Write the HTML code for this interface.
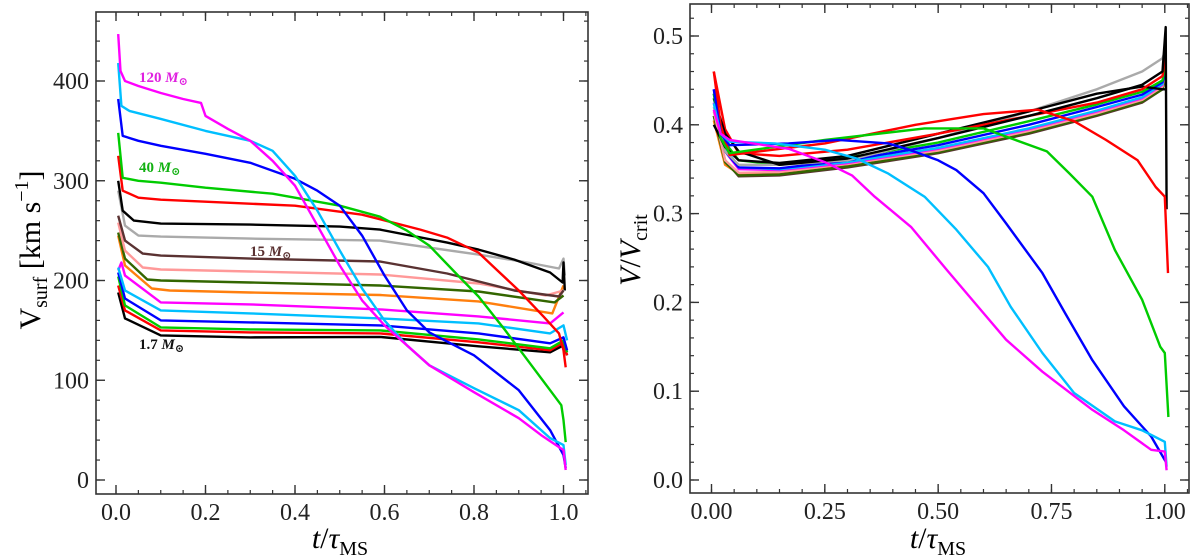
<!DOCTYPE html>
<html><head><meta charset="utf-8">
<style>
html,body{margin:0;padding:0;background:#fff;}
svg{display:block;font-family:"Liberation Serif","DejaVu Serif",serif;}
</style></head>
<body>
<svg id="chart" width="1200" height="558" viewBox="0 0 1200 558" xmlns="http://www.w3.org/2000/svg">
<defs>
<clipPath id="clipL"><rect x="96" y="12" width="492" height="482"/></clipPath>
<clipPath id="clipR"><rect x="690" y="4" width="500" height="489"/></clipPath>
</defs>
<g id="left"></g>
<g id="right"></g>
<text transform="translate(40,250) rotate(-90)" text-anchor="middle" font-size="30">V<tspan font-size="20" dy="7">surf</tspan><tspan dy="-7"> [km s</tspan><tspan font-size="20" dy="-12">−1</tspan><tspan dy="12">]</tspan></text>
<text transform="translate(640,250) rotate(-90)" text-anchor="middle" font-size="30"><tspan font-style="italic">V</tspan>/<tspan font-style="italic">V</tspan><tspan font-size="20" dy="7">crit</tspan></text>
<text x="340" y="548" text-anchor="middle" font-size="30"><tspan font-style="italic">t</tspan>/<tspan font-style="italic">τ</tspan><tspan font-size="20" dy="7">MS</tspan></text>
<text x="938" y="548" text-anchor="middle" font-size="30"><tspan font-style="italic">t</tspan>/<tspan font-style="italic">τ</tspan><tspan font-size="20" dy="7">MS</tspan></text>
<text x="139" y="82" font-size="15" font-weight="bold" fill="#e020e0">120 <tspan font-style="italic">M</tspan><tspan font-size="11" dy="3">⊙</tspan></text>
<text x="139" y="172" font-size="15" font-weight="bold" fill="#10b010">40 <tspan font-style="italic">M</tspan><tspan font-size="11" dy="3">⊙</tspan></text>
<text x="250" y="256" font-size="15" font-weight="bold" fill="#5a3232">15 <tspan font-style="italic">M</tspan><tspan font-size="11" dy="3">⊙</tspan></text>
<text x="139" y="349" font-size="15" font-weight="bold" fill="#111">1.7 <tspan font-style="italic">M</tspan><tspan font-size="11" dy="3">⊙</tspan></text>
</svg>
<script>
// ---------- Left panel data ----------
const L_m120_t=[0.005,0.01,0.02,0.05,0.1,0.15,0.19,0.2,0.25,0.3,0.35,0.4,0.45,0.5,0.55,0.6,0.65,0.7,0.8,0.9,0.95,1.0,1.005];
const L_m120_v=[447,410,400,395,388,382,378,365,352,340,320,295,255,215,180,155,135,115,88,62,45,30,10];
const L_cyH_t=[0.005,0.012,0.03,0.1,0.2,0.3,0.35,0.4,0.45,0.5,0.55,0.6,0.65,0.7,0.8,0.9,0.97,1.0,1.005];
const L_cyH_v=[418,375,370,362,350,340,330,305,270,230,192,160,135,115,92,70,42,35,15];
const L_blH_t=[0.005,0.015,0.05,0.1,0.2,0.3,0.4,0.45,0.5,0.55,0.6,0.65,0.7,0.8,0.9,0.97,1.0,1.005];
const L_blH_v=[382,345,340,335,327,318,302,290,275,245,205,170,148,125,90,50,25,12];
const L_gr40_t=[0.005,0.015,0.05,0.1,0.2,0.35,0.5,0.59,0.65,0.7,0.76,0.81,0.87,0.93,0.97,0.995,1.0,1.005];
const L_gr40_v=[348,303,300,298,293,287,275,264,250,235,207,184,150,114,90,75,60,38];
const L_rdH_t=[0.005,0.015,0.05,0.1,0.2,0.4,0.55,0.68,0.74,0.81,0.85,0.9,0.955,0.99,1.0,1.005];
const L_rdH_v=[325,290,283,281,279,275,266,251,243,228,211,190,164,147,130,113];
const L_bkH_t=[0.005,0.015,0.04,0.1,0.3,0.5,0.59,0.74,0.81,0.89,0.97,0.998,1.0,1.003];
const L_bkH_v=[300,270,260,257,256,254,251,238,231,221,208,198,218,190];
const L_gy_t=[0.005,0.02,0.05,0.1,0.3,0.59,0.81,0.92,0.99,1.0,1.003];
const L_gy_v=[290,255,245,244,242,240,226,218,212,222,205];
const L_br_t=[0.005,0.02,0.06,0.1,0.3,0.59,0.74,0.89,0.99,1.0];
const L_br_v=[265,240,227,225,222,219,207,190,184,190];
const L_pk_t=[0.005,0.02,0.06,0.1,0.3,0.59,0.81,0.96,1.0];
const L_pk_v=[258,230,213,211,209,206,197,185,190];
const L_dg_t=[0.005,0.02,0.07,0.1,0.3,0.59,0.81,0.98,1.0];
const L_dg_v=[248,222,201,200,198,195,189,178,185];
const L_or_t=[0.005,0.02,0.08,0.12,0.3,0.59,0.81,0.975,1.0];
const L_or_v=[245,215,192,190,188,185.5,179,167,195];
const L_mL_t=[0.005,0.012,0.02,0.1,0.3,0.59,0.81,0.97,1.0];
const L_mL_v=[210,218,205,178,176,171,164,157,168];
const L_low_t=[0.005,0.02,0.1,0.3,0.59,0.81,0.97,1.0,1.008];
const L_cL_v=[213,190,170,167,162,157,147,155,140];
const L_bL_v=[208,182,160,158,155,147,137,143,130];
const L_gL_v=[204,175,153,151,150,141,132,140,128];
const L_rL_v=[195,170,150,148,147,138,130,138,125];
const L_kL_v=[188,162,145,143,143.5,134,128,135,125];
const L_yticks=[0,100,200,300,400];
const L_xticks=[0.0,0.2,0.4,0.6,0.8,1.0];
const L_xlabels=["0.0","0.2","0.4","0.6","0.8","1.0"];

// ---------- Right panel data ----------
const R_bulk_t=[0.005,0.03,0.06,0.15,0.3,0.5,0.7,0.85,0.95,0.995,1.002];
const R_br_v=[0.41,0.36,0.342,0.343,0.352,0.368,0.39,0.41,0.425,0.44,0.46];
const R_or_v=[0.405,0.355,0.345,0.346,0.355,0.37,0.392,0.412,0.427,0.442,0.47];
const R_pk_v=[0.415,0.36,0.346,0.347,0.356,0.371,0.393,0.413,0.428,0.443,0.465];
const R_dg_v=[0.41,0.358,0.343,0.344,0.353,0.369,0.391,0.411,0.426,0.44,0.455];
const R_mL_v=[0.425,0.37,0.35,0.349,0.357,0.373,0.395,0.415,0.43,0.445,0.47];
const R_cL_v=[0.43,0.375,0.352,0.35,0.358,0.374,0.396,0.416,0.431,0.446,0.475];
const R_bL_v=[0.44,0.37,0.352,0.351,0.36,0.377,0.4,0.42,0.434,0.448,0.46];
const R_gL_v=[0.435,0.38,0.36,0.355,0.363,0.38,0.404,0.423,0.437,0.45,0.47];
const R_rL_v=[0.46,0.395,0.368,0.365,0.372,0.39,0.41,0.425,0.44,0.455,0.48];
const R_k2_v=[0.4,0.375,0.36,0.357,0.365,0.39,0.415,0.435,0.443,0.44,0.44];
const R_gy_v=[0.42,0.37,0.355,0.355,0.36,0.385,0.415,0.44,0.46,0.475,0.485];
const R_k1_t=[0.005,0.03,0.06,0.15,0.3,0.5,0.7,0.85,0.95,0.995,1.002,1.004];
const R_k1_v=[0.43,0.39,0.37,0.355,0.362,0.385,0.41,0.43,0.445,0.46,0.51,0.305];
const R_m_t=[0.005,0.02,0.04,0.17,0.25,0.31,0.36,0.44,0.52,0.6,0.65,0.73,0.84,0.91,0.97,1.0,1.004];
const R_m_v=[0.417,0.39,0.383,0.373,0.358,0.343,0.319,0.285,0.236,0.188,0.158,0.122,0.079,0.056,0.034,0.032,0.011];
const R_c_t=[0.005,0.02,0.04,0.14,0.25,0.32,0.39,0.47,0.54,0.61,0.66,0.73,0.8,0.89,0.95,1.0,1.004];
const R_c_v=[0.424,0.39,0.381,0.379,0.372,0.362,0.345,0.319,0.282,0.24,0.195,0.143,0.098,0.066,0.056,0.043,0.015];
const R_b_t=[0.005,0.02,0.04,0.17,0.28,0.39,0.43,0.5,0.54,0.6,0.65,0.73,0.78,0.84,0.91,0.97,1.004];
const R_b_v=[0.44,0.39,0.377,0.379,0.383,0.379,0.373,0.36,0.349,0.323,0.289,0.233,0.188,0.135,0.083,0.049,0.019];
const R_g_t=[0.005,0.02,0.04,0.25,0.47,0.6,0.67,0.74,0.79,0.84,0.89,0.95,0.99,1.0,1.008];
const R_g_v=[0.435,0.385,0.368,0.383,0.396,0.396,0.383,0.37,0.345,0.319,0.259,0.203,0.15,0.143,0.071];
const R_r_t=[0.005,0.02,0.04,0.25,0.45,0.6,0.72,0.8,0.87,0.94,0.98,1.0,1.007];
const R_r_v=[0.46,0.4,0.366,0.379,0.4,0.412,0.417,0.404,0.383,0.36,0.33,0.319,0.233];
const R_yticks=[0.0,0.1,0.2,0.3,0.4,0.5];
const R_ylabels=["0.0","0.1","0.2","0.3","0.4","0.5"];
const R_xticks=[0.0,0.25,0.5,0.75,1.0];
const R_xlabels=["0.00","0.25","0.50","0.75","1.00"];

const NS="http://www.w3.org/2000/svg";
const xL=t=>116+t*447.5, yL=v=>480-v*0.9975;
const xR=t=>711.5+t*453.3, yR=v=>480-v*888;
const LF={x0:96,x1:588,y0:12,y1:494}, RF={x0:690,x1:1189,y0:4,y1:493};

function el(tag,attrs,parent){const e=document.createElementNS(NS,tag);for(const k in attrs)e.setAttribute(k,attrs[k]);parent.appendChild(e);return e;}

function series(parent,clip,xf,yf,ts,vs,color,name){
  let g=parent.querySelector('g.clip');
  if(!g){g=el('g',{'class':'clip','clip-path':'url(#'+clip+')'},parent);}
  const pts=ts.map((t,i)=>xf(t).toFixed(1)+','+yf(vs[i]).toFixed(1)).join(' ');
  const p=el('polyline',{points:pts,fill:'none',stroke:color,'stroke-width':2.4,'stroke-linejoin':'round'},g);
  
  
}

function axes(parent,F,xf,yf,xt,xlab,xminor,yt,ylab,yminor,prefix){
  const fr=el('rect',{x:F.x0,y:F.y0,width:F.x1-F.x0,height:F.y1-F.y0,fill:'none',stroke:'#333','stroke-width':1.6},parent);
  
  
  xminor.forEach(t=>{const x=xf(t);if(x<=F.x0+1||x>=F.x1-1)return;el('line',{x1:x,x2:x,y1:F.y1,y2:F.y1-4,stroke:'#333','stroke-width':1.2},parent);el('line',{x1:x,x2:x,y1:F.y0,y2:F.y0+4,stroke:'#333','stroke-width':1.2},parent);});
  yminor.forEach(v=>{const y=yf(v);if(y<=F.y0+1||y>=F.y1-1)return;el('line',{x1:F.x0,x2:F.x0+4,y1:y,y2:y,stroke:'#333','stroke-width':1.2},parent);el('line',{x1:F.x1,x2:F.x1-4,y1:y,y2:y,stroke:'#333','stroke-width':1.2},parent);});
  xt.forEach((t,i)=>{const x=xf(t);el('line',{x1:x,x2:x,y1:F.y1,y2:F.y1-9,stroke:'#333','stroke-width':1.4},parent);el('line',{x1:x,x2:x,y1:F.y0,y2:F.y0+9,stroke:'#333','stroke-width':1.4},parent);
    const tx=el('text',{x:x,y:F.y1+26,'text-anchor':'middle','font-size':24,fill:'#222'},parent);tx.textContent=xlab[i];
    
    });
  yt.forEach((v,i)=>{const y=yf(v);el('line',{x1:F.x0,x2:F.x0+9,y1:y,y2:y,stroke:'#333','stroke-width':1.4},parent);el('line',{x1:F.x1,x2:F.x1-9,y1:y,y2:y,stroke:'#333','stroke-width':1.4},parent);
    const tx=el('text',{x:F.x0-7,y:y+8,'text-anchor':'end','font-size':24,fill:'#222'},parent);tx.textContent=ylab[i];
    
    });
}

const gl=document.getElementById('left'), gr=document.getElementById('right');
const LS=[[L_kL_v,'#000000','vsurf-1.7'],[L_rL_v,'#ff0000','vsurf-red-low'],[L_gL_v,'#00cc00','vsurf-green-low'],[L_bL_v,'#0000ff','vsurf-blue-low'],[L_cL_v,'#00bfff','vsurf-cyan-low']];
series(gl,'clipL',xL,yL,L_mL_t,L_mL_v,'#ff00ff','vsurf-magenta-low');
LS.forEach(s=>series(gl,'clipL',xL,yL,L_low_t,s[0],s[1],s[2]));
series(gl,'clipL',xL,yL,L_or_t,L_or_v,'#ff7f0e','vsurf-orange');
series(gl,'clipL',xL,yL,L_dg_t,L_dg_v,'#336600','vsurf-darkgreen');
series(gl,'clipL',xL,yL,L_pk_t,L_pk_v,'#ff9999','vsurf-pink');
series(gl,'clipL',xL,yL,L_br_t,L_br_v,'#5a3232','vsurf-15');
series(gl,'clipL',xL,yL,L_gy_t,L_gy_v,'#aaaaaa','vsurf-gray');
series(gl,'clipL',xL,yL,L_bkH_t,L_bkH_v,'#000000','vsurf-black-high');
series(gl,'clipL',xL,yL,L_rdH_t,L_rdH_v,'#ff0000','vsurf-red-high');
series(gl,'clipL',xL,yL,L_gr40_t,L_gr40_v,'#00cc00','vsurf-40');
series(gl,'clipL',xL,yL,L_blH_t,L_blH_v,'#0000ff','vsurf-blue-high');
series(gl,'clipL',xL,yL,L_cyH_t,L_cyH_v,'#00bfff','vsurf-cyan-high');
series(gl,'clipL',xL,yL,L_m120_t,L_m120_v,'#ff00ff','vsurf-120');
const Lxm=[],Lym=[];for(let i=0;i<=21;i++)Lxm.push(i*0.05);for(let i=0;i<=23;i++)Lym.push(i*20);
axes(gl,LF,xL,yL,L_xticks,L_xlabels,Lxm,L_yticks,L_yticks.map(String),Lym,'left');

const RS=[[R_br_v,'#5a3232','ratio-brown'],[R_or_v,'#ff7f0e','ratio-orange'],[R_dg_v,'#336600','ratio-darkgreen'],[R_pk_v,'#ff9999','ratio-pink'],[R_mL_v,'#ff00ff','ratio-magenta-low'],[R_cL_v,'#00bfff','ratio-cyan-low'],[R_bL_v,'#0000ff','ratio-blue-low'],[R_gL_v,'#00cc00','ratio-green-low'],[R_gy_v,'#aaaaaa','ratio-gray'],[R_k2_v,'#000000','ratio-black-2'],[R_rL_v,'#ff0000','ratio-red-low']];
RS.forEach(s=>series(gr,'clipR',xR,yR,R_bulk_t,s[0],s[1],s[2]));
series(gr,'clipR',xR,yR,R_k1_t,R_k1_v,'#000000','ratio-black-1');
series(gr,'clipR',xR,yR,R_r_t,R_r_v,'#ff0000','ratio-red-high');
series(gr,'clipR',xR,yR,R_g_t,R_g_v,'#00cc00','ratio-green-40');
series(gr,'clipR',xR,yR,R_b_t,R_b_v,'#0000ff','ratio-blue-high');
series(gr,'clipR',xR,yR,R_c_t,R_c_v,'#00bfff','ratio-cyan-high');
series(gr,'clipR',xR,yR,R_m_t,R_m_v,'#ff00ff','ratio-120');
const Rxm=[],Rym=[];for(let i=0;i<=21;i++)Rxm.push(i*0.05);for(let i=0;i<=27;i++)Rym.push(i*0.02);
axes(gr,RF,xR,yR,R_xticks,R_xlabels,Rxm,R_yticks,R_ylabels,Rym,'right');
</script>
</body></html>
